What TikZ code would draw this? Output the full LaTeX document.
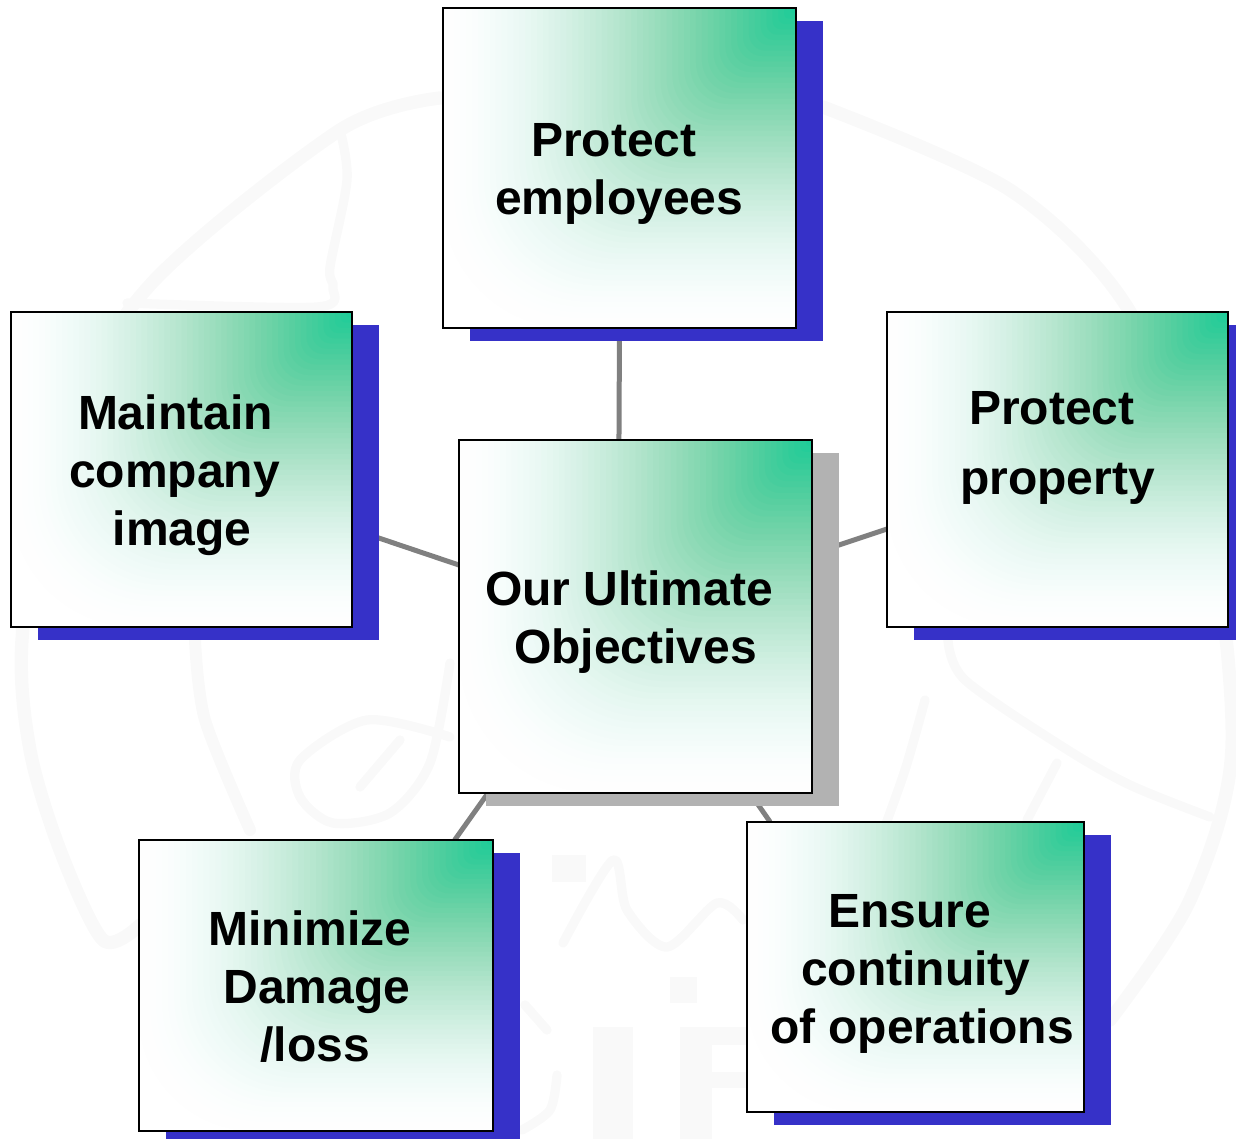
\documentclass[tikz,border=0pt]{standalone}
\usepackage{fontspec}
\setmainfont{Liberation Sans}
\pgfdeclarelayer{bg}
\pgfsetlayers{bg,main}
\definecolor{shadowblue}{RGB}{54,49,200}
\definecolor{shadowgrey}{RGB}{178,178,178}
\definecolor{linkgrey}{RGB}{128,128,128}
\definecolor{markgrey}{RGB}{249,249,249}
\tikzset{
  x=0.75pt,y=-0.75pt,
  boxframe/.style={draw=black,line width=1.5pt,rectangle,inner sep=0pt,outer sep=0pt},
  boxlabel/.style={anchor=base west,inner sep=0pt,outer sep=0pt,align=left,font=\bfseries\fontsize{36}{43.5}\selectfont},
  linkline/.style={draw=linkgrey,line width=3.75pt},
  seal/.style={draw=markgrey,line width=7pt,line cap=round,line join=round}
}
% name, left, top, right, bottom, shadow right, shadow bottom, shadow colour
\newcommand{\gradbox}[8]{%
  \fill[#8] ({#2+27},{#3+13}) rectangle (#6,#7);
  \fill[white] (#2,#3) rectangle (#4,#5);
  \foreach \k in {0,...,59}{%
    \pgfmathsetmacro{\tval}{1-\k/60}%
    \pgfmathsetmacro{\sval}{1-\tval+0.008}%
    \pgfmathsetmacro{\sinv}{sin(90*\sval)}%
    \pgfmathtruncatemacro{\rr}{max(0,255-227*\sval^1.6)}%
    \pgfmathtruncatemacro{\gg}{max(0,255-51*\sinv^2)}%
    \pgfmathtruncatemacro{\bb}{max(0,255-102*\sinv^2.1)}%
    \definecolor{stepcolour}{RGB}{\rr,\gg,\bb}%
    \pgfmathsetmacro{\rad}{0.75*0.4*\tval*min(#4-#2,#5-#3)}%
    \fill[stepcolour] (#4,#3) -- ({#4-\tval*(#4-#2)},#3) [rounded corners=\rad pt] -- ({#4-\tval*(#4-#2)},{#3+\tval*(#5-#3)}) [sharp corners] -- (#4,{#3+\tval*(#5-#3)}) -- cycle;
  }%
  \pgfmathsetmacro{\bw}{0.75*(#4-#2)}%
  \pgfmathsetmacro{\bh}{0.75*(#5-#3)}%
  \node[boxframe,minimum width=\bw pt,minimum height=\bh pt] (#1) at ({(#2+#4)/2},{(#3+#5)/2}) {};
}
\begin{document}
\begin{tikzpicture}
\useasboundingbox (0,0) rectangle (1236,1139);
\clip (0,0) rectangle (1236,1139);
\gradbox{emp}{443}{8}{796}{328}{823}{341}{shadowblue}
\gradbox{maint}{11}{312}{352}{627}{379}{640}{shadowblue}
\gradbox{prop}{887}{312}{1228}{627}{1236}{640}{shadowblue}
\gradbox{hub}{459}{440}{812}{793}{839}{806}{shadowgrey}
\gradbox{mini}{139}{840}{493}{1131}{520}{1139}{shadowblue}
\gradbox{ens}{747}{822}{1084}{1112}{1111}{1125}{shadowblue}

\node[boxlabel] (emptext) at (531,214.5) {Protect\\\hspace*{-27pt}employees};
\node[boxlabel] (mainttext) at (74,545) {\hspace*{3pt}Maintain\\\hspace*{-3.75pt}company\\\hspace*{29pt}image};
\node[boxlabel] (proptext) at (969,494) {Protect\\[9pt]\hspace*{-6.75pt}property};
\node[boxlabel] (hubtext) at (485,663.5) {Our Ultimate\\\hspace*{21.75pt}Objectives};
\node[boxlabel] (minitext) at (208.5,1061.5) {Minimize\\\hspace*{11.25pt}Damage\\\hspace*{39pt}/loss};
\node[boxlabel] (enstext) at (828,1043.5) {Ensure\\\hspace*{-20.25pt}continuity\\\hspace*{-43.5pt}of operations};

\begin{pgfonlayer}{bg}
  % faint seal behind the diagram
  \draw[seal,line width=10pt] plot[smooth] coordinates {(140,925) (103,940) (60,850) (30,750) (22,640) (50,450) (150,285) (340,130) (440,98)};
  \draw[seal,line width=10pt] plot[smooth] coordinates {(823,107) (1010,190) (1127,307) (1205,500) (1232,747) (1190,900) (1110,1020)};
  \draw[seal] plot[smooth] coordinates {(127,303) (317,307) (333,287) (330,267) (347,180) (340,130)};
  \draw[seal,line width=9pt] plot[smooth] coordinates {(195,640) (205,720) (250,830)};
  \draw[seal] plot[smooth] coordinates {(948,640) (965,680) (1063,747) (1130,785) (1210,817)};
  \draw[seal] plot[smooth] coordinates {(1057,763) (1027,820)};
  \draw[seal] plot[smooth] coordinates {(450,737) (367,720) (300,760) (300,797) (333,823) (390,813) (430,763) (450,663)};
  \draw[seal] plot[smooth] coordinates {(360,787) (400,740)};
  \draw[seal] plot[smooth] coordinates {(880,840) (905,770) (925,700)};
  \draw[seal] plot[smooth] coordinates {(563,943) (613,860) (627,910) (667,947) (717,903) (743,920)};
  \draw[seal] plot[smooth] coordinates {(525,1005) (547,1030)};
  \draw[seal] plot[smooth] coordinates {(557,1075) (550,1110) (522,1130)};
  \fill[markgrey] (552,855) rectangle (586,882);
  \fill[markgrey] (670,977) rectangle (697,1003);
  \fill[markgrey] (593,1027) rectangle (633,1139);
  \fill[markgrey] (680,1027) rectangle (712,1139);
  \fill[markgrey] (712,1027) rectangle (747,1045);
  \fill[markgrey] (712,1072) rectangle (747,1088);
  \draw[linkline] ([xshift=-12.4pt]hub.north) -- (emp.south);
  \draw[linkline] ([yshift=38.6pt]hub.west) -- ([yshift=-44.6pt]maint.east);
  \draw[linkline] ([yshift=46.9pt]hub.east) -- ([yshift=-44.6pt]prop.west);
  \draw[linkline] ([xshift=-110.6pt]hub.south) -- ([xshift=104pt]mini.north);
  \draw[linkline] ([xshift=85.9pt]hub.south) -- ([xshift=-109pt]ens.north);
\end{pgfonlayer}
\end{tikzpicture}
\end{document}
